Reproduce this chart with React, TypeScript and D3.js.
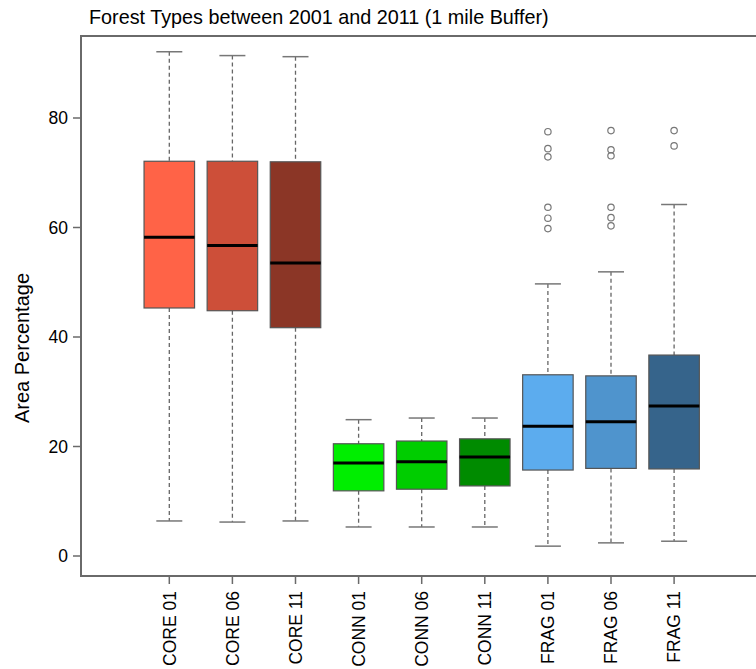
import React from "react";
import * as d3 from "d3";

const categories = ["CORE 01", "CORE 06", "CORE 11", "CONN 01", "CONN 06", "CONN 11", "FRAG 01", "FRAG 06", "FRAG 11"];
const colors = ["#FF6347", "#CD4F39", "#8B3626", "#00EE00", "#00CD00", "#008B00", "#5CACEE", "#4F94CD", "#36648B"];
const whiskerLow = [6.4, 6.2, 6.4, 5.3, 5.3, 5.3, 1.8, 2.4, 2.7];
const q1 = [45.3, 44.8, 41.7, 11.9, 12.2, 12.8, 15.7, 16.0, 15.9];
const median = [58.2, 56.7, 53.5, 17.0, 17.2, 18.1, 23.7, 24.5, 27.4];
const q3 = [72.1, 72.1, 72.0, 20.5, 21.0, 21.4, 33.1, 32.9, 36.7];
const whiskerHigh = [92.1, 91.4, 91.2, 24.9, 25.2, 25.2, 49.7, 51.9, 64.2];
const outliers: number[][] = [
  [], [], [], [], [], [],
  [77.5, 74.4, 72.9, 63.7, 61.7, 59.8],
  [77.7, 74.2, 73.1, 63.7, 61.8, 60.3],
  [77.7, 74.9],
];
const yTicks = [0, 20, 40, 60, 80];

const W = 756, H = 669;
const left = 81, top = 36, bottom = 576, right = 756;

export default function App() {
  const y = d3.scaleLinear().domain([0, 80]).range([556, 118]);
  const x = d3.scalePoint<string>().domain(categories).range([169.3, 674.1]);
  const boxW = 50.5;
  const capW = 26;
  const font = "Liberation Sans, Arial, sans-serif";
  const axisCol = "#6a6a6a";
  return (
    <svg width={W} height={H} style={{ position: "absolute", left: 0, top: 0 }} fontFamily={font}>
      <rect width={W} height={H} fill="#fff" />
      <text x={89} y={23.5} fontSize={19.8} fill="#000">Forest Types between 2001 and 2011 (1 mile Buffer)</text>
      <text transform={`translate(29,348) rotate(-90)`} textAnchor="middle" fontSize={20} fill="#000">Area Percentage</text>
      {/* frame */}
      <line x1={left} y1={top} x2={right} y2={top} stroke={axisCol} strokeWidth={2} />
      <line x1={left} y1={top - 1} x2={left} y2={bottom + 1} stroke={axisCol} strokeWidth={2} />
      <line x1={left} y1={bottom} x2={right} y2={bottom} stroke={axisCol} strokeWidth={2} />
      {yTicks.map((t) => (
        <g key={t}>
          <line x1={73} x2={left} y1={y(t)} y2={y(t)} stroke={axisCol} strokeWidth={1.5} />
          <text x={68} y={y(t)} dy="0.36em" textAnchor="end" fontSize={17.5} fill="#000">{t}</text>
        </g>
      ))}
      {categories.map((c, i) => {
        const cx = x(c)!;
        return (
          <g key={c}>
            <line x1={cx} x2={cx} y1={bottom} y2={bottom + 8} stroke={axisCol} strokeWidth={1.5} />
            <text transform={`translate(${cx},${bottom + 15}) rotate(-90)`} dy="0.36em" textAnchor="end" fontSize={17.5} fill="#000">{c}</text>
            {/* whiskers */}
            <line x1={cx} x2={cx} y1={y(whiskerHigh[i])} y2={y(q3[i])} stroke="#666" strokeWidth={1.3} strokeDasharray="4,3" />
            <line x1={cx} x2={cx} y1={y(q1[i])} y2={y(whiskerLow[i])} stroke="#666" strokeWidth={1.3} strokeDasharray="4,3" />
            <line x1={cx - capW / 2} x2={cx + capW / 2} y1={y(whiskerHigh[i])} y2={y(whiskerHigh[i])} stroke="#777" strokeWidth={1.5} />
            <line x1={cx - capW / 2} x2={cx + capW / 2} y1={y(whiskerLow[i])} y2={y(whiskerLow[i])} stroke="#777" strokeWidth={1.5} />
            <rect x={cx - boxW / 2} y={y(q3[i])} width={boxW} height={y(q1[i]) - y(q3[i])} fill={colors[i]} stroke="#555" strokeWidth={1.2} />
            <line x1={cx - boxW / 2} x2={cx + boxW / 2} y1={y(median[i])} y2={y(median[i])} stroke="#000" strokeWidth={3} />
            {outliers[i].map((o, j) => (
              <circle key={j} cx={cx} cy={y(o)} r={3.2} fill="none" stroke="#777" strokeWidth={1.2} />
            ))}
          </g>
        );
      })}
    </svg>
  );
}
